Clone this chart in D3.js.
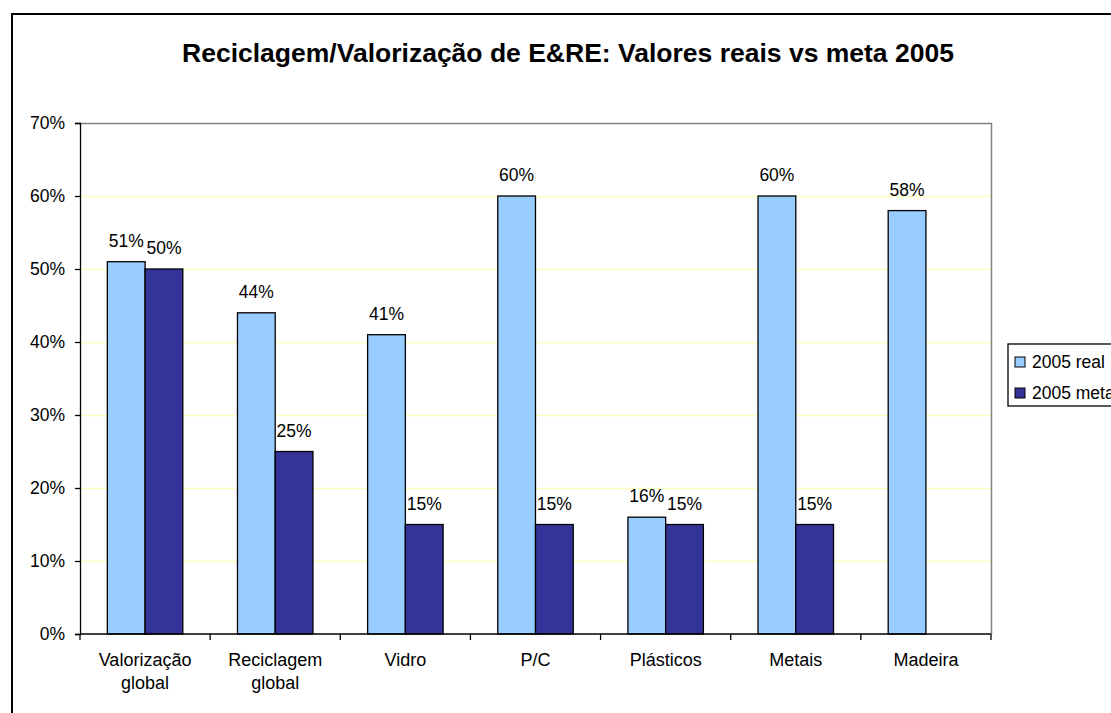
<!DOCTYPE html>
<html>
<head>
<meta charset="utf-8">
<script src="https://cdn.jsdelivr.net/npm/d3@7"></script>
<style>
  body { margin: 0; background: #fff; overflow: hidden; }
  svg { display: block; font-family: "Liberation Sans", Arial, sans-serif; }
</style>
</head>
<body>
<svg id="svg" width="1111" height="713"></svg>
<script>
const categories = [["Valorização", "global"], ["Reciclagem", "global"], ["Vidro"], ["P/C"], ["Plásticos"], ["Metais"], ["Madeira"]];
const seriesNames = ["2005 real", "2005 meta"];
const real = [51, 44, 41, 60, 16, 60, 58];
const meta = [50, 25, 15, 15, 15, 15, null];
const yTicks = [0, 10, 20, 30, 40, 50, 60, 70];
const colours = ["#99ccff", "#333399"];

const margin = { top: 123, left: 80 };
const width = 911;
const height = 511;
const fontSize = "17.5px";

const svg = d3.select("#svg");

// outer chart border (runs off the right and bottom edge)
svg.append("rect")
  .attr("x", 12).attr("y", 14)
  .attr("width", 1200).attr("height", 800)
  .attr("fill", "none").attr("stroke", "#000").attr("stroke-width", 2);

svg.append("text")
  .attr("x", 568).attr("y", 62)
  .attr("text-anchor", "middle")
  .attr("font-size", "26.5px").attr("font-weight", "bold")
  .text("Reciclagem/Valorização de E&RE: Valores reais vs meta 2005");

const xScale = d3.scaleBand()
  .domain(d3.range(categories.length))
  .range([0, width]);

const inner = d3.scaleBand()
  .domain([0, 1])
  .range([xScale.bandwidth() * 0.21, xScale.bandwidth() * 0.79]);

const yScale = d3.scaleLinear().domain([0, 70]).range([height, 0]);

const g = svg.append("g").attr("transform", `translate(${margin.left}, ${margin.top})`);

// gridlines
g.selectAll(".grid")
  .data(yTicks.filter(t => t > 0 && t < 70))
  .enter().append("line")
  .attr("x1", 0).attr("x2", width)
  .attr("y1", d => yScale(d) + 0.5).attr("y2", d => yScale(d) + 0.5)
  .attr("stroke", "#ffffc0").attr("stroke-width", 1.5);

// plot area frame (top and right, grey)
g.append("path")
  .attr("d", `M0,0.5H${width + 0.5}V${height}`)
  .attr("fill", "none").attr("stroke", "#808080").attr("stroke-width", 1.5);

// bars
const rows = [];
categories.forEach((c, i) => {
  rows.push({ cat: i, s: 0, v: real[i] });
  if (meta[i] != null) rows.push({ cat: i, s: 1, v: meta[i] });
});

g.selectAll(".bar")
  .data(rows)
  .enter().append("rect")
  .attr("class", "bar")
  .attr("x", d => xScale(d.cat) + inner(d.s))
  .attr("y", d => yScale(d.v))
  .attr("width", inner.bandwidth())
  .attr("height", d => height - yScale(d.v))
  .attr("fill", d => colours[d.s])
  .attr("stroke", "#000").attr("stroke-width", 1.3);

g.selectAll(".bar-label")
  .data(rows)
  .enter().append("text")
  .attr("class", "bar-label")
  .attr("x", d => xScale(d.cat) + inner(d.s) + inner.bandwidth() / 2)
  .attr("y", d => yScale(d.v) - 15)
  .attr("text-anchor", "middle")
  .attr("font-size", fontSize)
  .text(d => d.v + "%");

// Y axis
const yAxis = g.append("g")
  .call(d3.axisLeft(yScale).tickValues(yTicks).tickFormat(d => d + "%").tickSize(5).tickPadding(10));
yAxis.select(".domain").attr("stroke", "#000").attr("stroke-width", 1.3);
yAxis.selectAll(".tick line").attr("stroke", "#000").attr("stroke-width", 1.3);
yAxis.selectAll("text").attr("font-size", fontSize).attr("font-family", "Liberation Sans, Arial, sans-serif").attr("fill", "#000");

// X axis with ticks at category boundaries
const xAxis = g.append("g").attr("transform", `translate(0, ${height})`);
xAxis.append("line")
  .attr("x1", 0).attr("x2", width)
  .attr("stroke", "#000").attr("stroke-width", 1.3);
xAxis.selectAll(".xtick")
  .data(d3.range(categories.length + 1))
  .enter().append("line")
  .attr("x1", d => d * xScale.step()).attr("x2", d => d * xScale.step())
  .attr("y1", 0).attr("y2", 6)
  .attr("stroke", "#000").attr("stroke-width", 1.3);

const xLabels = xAxis.selectAll(".xlabel")
  .data(categories)
  .enter().append("text")
  .attr("class", "xlabel")
  .attr("text-anchor", "middle")
  .attr("font-size", "18px")
  .attr("y", 32);
xLabels.selectAll("tspan")
  .data((d, i) => d.map(line => ({ line, i })))
  .enter().append("tspan")
  .attr("x", d => xScale(d.i) + xScale.bandwidth() / 2)
  .attr("dy", (d, j) => j === 0 ? 0 : 23)
  .text(d => d.line);

// legend (cut off by the right edge, as in the original)
const legend = svg.append("g").attr("transform", "translate(1008, 344)");
legend.append("rect")
  .attr("x", 0).attr("y", 0).attr("width", 130).attr("height", 62)
  .attr("fill", "#fff").attr("stroke", "#000").attr("stroke-width", 1.3);
seriesNames.forEach((name, i) => {
  legend.append("rect")
    .attr("x", 7).attr("y", 13 + i * 31)
    .attr("width", 10).attr("height", 10)
    .attr("fill", colours[i]).attr("stroke", "#000");
  legend.append("text")
    .attr("x", 24).attr("y", 24 + i * 31)
    .attr("font-size", fontSize)
    .text(name);
});
</script>
</body>
</html>
